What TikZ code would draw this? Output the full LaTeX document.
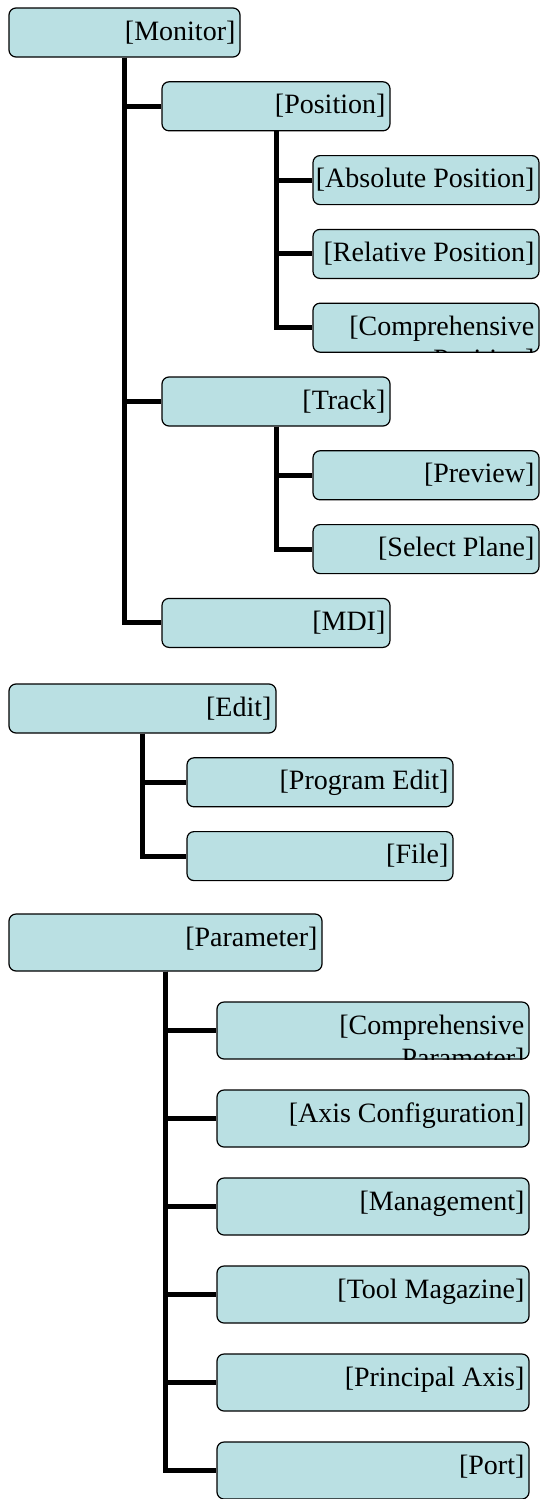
\documentclass[tikz,border=0pt]{standalone}
\usepackage{fontspec}
\setmainfont{Liberation Serif}
\usetikzlibrary{positioning}
\definecolor{boxfill}{RGB}{186,224,227}

\begin{document}
\begin{tikzpicture}[x=0.5pt, y=-0.5pt, node distance=36.9pt]
    % Define styles
    \tikzstyle{menubox} = [rectangle, rounded corners=3.5pt, draw=black, line width=0.6pt, fill=boxfill, minimum height=24.5pt, inner sep=0pt]
    \tikzstyle{parambox} = [menubox, minimum width=156pt, minimum height=28.5pt]
    \tikzstyle{boxtext} = [anchor=north east, draw=none, fill=none, sharp corners, minimum width=0pt, minimum height=0pt, inner sep=0pt, align=right, font=\fontsize{14}{16.5}\selectfont]
    \tikzstyle{branch} = [line width=2.5pt]
    \tikzset{boxlabel/.style 2 args={path picture={\node[boxtext] (#1) at ([xshift=-2pt,yshift=-6pt]path picture bounding box.north east) {#2};}}}

    \useasboundingbox (0,0) rectangle (544,1499);

    % Monitor
    \node[menubox, minimum width=115.5pt, boxlabel={monitor-t}{[Monitor]}] (monitor) at (124.5,32.5) {};
    \node[menubox, minimum width=114pt, below of=monitor, xshift=75.75pt, boxlabel={position-t}{[Position]}] (position) {};
    \node[menubox, minimum width=113pt, below of=position, xshift=75pt, boxlabel={abspos-t}{[Absolute Position]}] (abspos) {};
    \node[menubox, minimum width=113pt, below of=abspos, boxlabel={relpos-t}{[Relative Position]}] (relpos) {};
    \node[menubox, minimum width=113pt, below of=relpos, boxlabel={comppos-t}{[Comprehensive\\Position]}] (comppos) {};
    \node[menubox, minimum width=114pt, below of=comppos, xshift=-75pt, boxlabel={track-t}{[Track]}] (track) {};
    \node[menubox, minimum width=113pt, below of=track, xshift=75pt, boxlabel={preview-t}{[Preview]}] (preview) {};
    \node[menubox, minimum width=113pt, below of=preview, boxlabel={selplane-t}{[Select Plane]}] (selplane) {};
    \node[menubox, minimum width=114pt, below of=selplane, xshift=-75pt, boxlabel={mdi-t}{[MDI]}] (mdi) {};

    % Edit
    \node[menubox, minimum width=133.5pt, boxlabel={edit-t}{[Edit]}] (edit) at (142.5,708.5) {};
    \node[menubox, minimum width=133pt, below of=edit, xshift=88.75pt, boxlabel={progedit-t}{[Program Edit]}] (progedit) {};
    \node[menubox, minimum width=133pt, below of=progedit, boxlabel={file-t}{[File]}] (file) {};

    % Parameter
    \begin{scope}[node distance=44pt]
    \node[parambox, minimum width=156.5pt, boxlabel={parameter-t}{[Parameter]}] (parameter) at (165.5,942.5) {};
    \node[parambox, below of=parameter, xshift=103.75pt, boxlabel={comppar-t}{[Comprehensive\\Parameter]}] (comppar) {};
    \node[parambox, below of=comppar, boxlabel={axiscfg-t}{[Axis Configuration]}] (axiscfg) {};
    \node[parambox, below of=axiscfg, boxlabel={manage-t}{[Management]}] (manage) {};
    \node[parambox, below of=manage, boxlabel={toolmag-t}{[Tool Magazine]}] (toolmag) {};
    \node[parambox, below of=toolmag, boxlabel={prinaxis-t}{[Principal Axis]}] (prinaxis) {};
    \node[parambox, below of=prinaxis, boxlabel={port-t}{[Port]}] (port) {};
    \end{scope}

    % Connections
    \draw[branch] (monitor.south) |- (position.west);
    \draw[branch] (monitor.south) |- (track.west);
    \draw[branch] (monitor.south) |- (mdi.west);
    \draw[branch] (position.south) |- (abspos.west);
    \draw[branch] (position.south) |- (relpos.west);
    \draw[branch] (position.south) |- (comppos.west);
    \draw[branch] (track.south) |- (preview.west);
    \draw[branch] (track.south) |- (selplane.west);
    \draw[branch] (edit.south) |- (progedit.west);
    \draw[branch] (edit.south) |- (file.west);
    \draw[branch] (parameter.south) |- (comppar.west);
    \draw[branch] (parameter.south) |- (axiscfg.west);
    \draw[branch] (parameter.south) |- (manage.west);
    \draw[branch] (parameter.south) |- (toolmag.west);
    \draw[branch] (parameter.south) |- (prinaxis.west);
    \draw[branch] (parameter.south) |- (port.west);
\end{tikzpicture}
\end{document}
